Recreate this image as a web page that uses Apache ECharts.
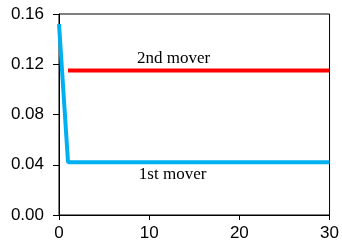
<!DOCTYPE html>
<html>
<head>
<meta charset="utf-8">
<script src="https://cdn.jsdelivr.net/npm/echarts@6/dist/echarts.min.js"></script>
<style>
  html, body { margin: 0; padding: 0; background: #fff; }
  #chart { width: 342px; height: 242px; }
</style>
</head>
<body>
<div id="chart"></div>
<script>
// values
var firstX = [0, 1, 30];
var firstY = [0.152, 0.042, 0.042];
var secondX = [1, 30];
var secondY = [0.115, 0.115];
var yTicks = [0, 0.04, 0.08, 0.12, 0.16];
var xTicks = [0, 10, 20, 30];
var labelNames = ['2nd mover', '1st mover'];
var labelAt = [[12.7, 0.1245], [12.6, 0.032]];

(function () {
  var blue = '#00b0f0';
  var red = '#ff0000';
  var ink = '#000';
  var serif = 'Liberation Serif, Times New Roman, serif';

  function pairs(xs, ys) {
    return xs.map(function (x, i) { return [x, ys[i]]; });
  }

  function note(i) {
    return {
      symbol: 'circle',
      symbolSize: 0,
      label: { show: true, position: 'inside', color: ink, fontSize: 17, fontFamily: serif, formatter: '{b}' },
      data: [{ name: labelNames[i], coord: labelAt[i] }]
    };
  }

  var chart = echarts.init(document.getElementById('chart'), null, { renderer: 'canvas' });
  chart.setOption({
    animation: false,
    backgroundColor: '#fff',
    grid: { left: 59, right: 11, top: 14, bottom: 27, show: true, borderColor: ink, borderWidth: 1 },
    textStyle: { fontFamily: 'Liberation Sans, Arial, sans-serif' },
    xAxis: {
      type: 'value',
      min: xTicks[0],
      max: xTicks[xTicks.length - 1],
      interval: xTicks[1] - xTicks[0],
      axisLine: { onZero: false, lineStyle: { color: ink, width: 1 } },
      axisTick: { show: true, inside: false, length: 5, lineStyle: { color: ink } },
      axisLabel: { color: ink, fontSize: 17, margin: 10 },
      splitLine: { show: false }
    },
    yAxis: {
      type: 'value',
      min: yTicks[0],
      max: yTicks[yTicks.length - 1],
      interval: yTicks[1] - yTicks[0],
      axisLine: { show: true, lineStyle: { color: ink, width: 1 } },
      axisTick: { show: true, inside: false, length: 6, lineStyle: { color: ink } },
      axisLabel: { color: ink, fontSize: 17, margin: 15, formatter: function (v) { return v.toFixed(2); } },
      splitLine: { show: false }
    },
    series: [
      {
        type: 'line',
        data: pairs(secondX, secondY),
        symbol: 'none',
        lineStyle: { color: red, width: 4 },
        markPoint: note(0)
      },
      {
        type: 'line',
        data: pairs(firstX, firstY),
        symbol: 'none',
        lineStyle: { color: blue, width: 4 },
        markPoint: note(1)
      }
    ]
  });
})();
</script>
</body>
</html>
